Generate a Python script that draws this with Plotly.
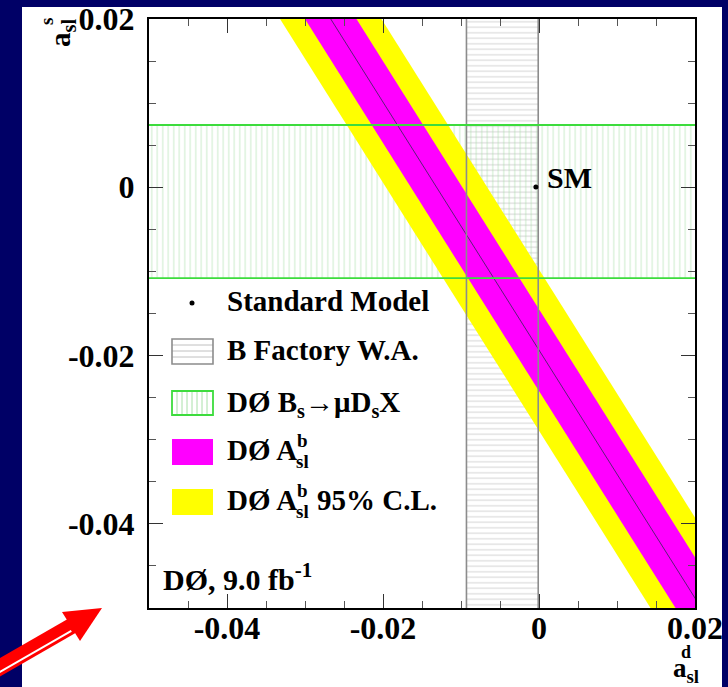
import numpy as np
import plotly.graph_objects as go

# ---------------- data ----------------
asl_d_range = [-0.05, 0.02]
asl_s_range = [-0.05, 0.02]
x_tick_vals = [-0.04, -0.02, 0.0, 0.02]
x_tick_text = ["-0.04", "-0.02", "0", "0.02"]
y_tick_vals = [-0.04, -0.02, 0.0, 0.02]
y_tick_text = ["-0.04", "-0.02", "0", "0.02"]

sm_asl_d = [-0.0004]
sm_asl_s = [0.00002]

bfactory_asl_d = [-0.0093, -0.0001]      # B Factory W.A. band edges (a_sl^d)
bs_asl_s = [-0.0108, 0.0074]             # DØ Bs->muDsX band edges (a_sl^s)

band_asl_s = [0.02, -0.05]               # a_sl^s at the two ends of the A_sl^b band
band_center_asl_d = [-0.0267, 0.0208]    # a_sl^d of the band centre at those ends
band_1sigma_half = 0.0033                # half width (in a_sl^d) of DØ A_sl^b band
band_95cl_half = 0.0065                  # half width (in a_sl^d) of 95% C.L. band

# ---------------- layout helpers ----------------
W, H = 728, 687
L, R, T, B = 149, 695, 19, 608
NAVY = "#000066"
FONT = "Liberation Serif"


def px(x):
    return (x - L) / (R - L)


def py(y):
    return (B - y) / (B - T)


fig = go.Figure()

span_s = [asl_s_range[0] - 0.01, asl_s_range[1] + 0.01]
span_d = [asl_d_range[0] - 0.01, asl_d_range[1] + 0.01]

# B factory hatched band (horizontal lines)
fig.add_trace(go.Scatter(
    x=[bfactory_asl_d[0], bfactory_asl_d[1], bfactory_asl_d[1], bfactory_asl_d[0]],
    y=[span_s[0], span_s[0], span_s[1], span_s[1]],
    fill="toself", mode="none", fillcolor="rgba(0,0,0,0)",
    fillpattern=dict(shape="-", size=5.5, solidity=0.2, fgcolor="#b0b0b0",
                     bgcolor="rgba(0,0,0,0)"),
    showlegend=False, hoverinfo="skip"))

# DØ Bs -> mu Ds X hatched band (vertical lines)
fig.add_trace(go.Scatter(
    x=[span_d[0], span_d[1], span_d[1], span_d[0]],
    y=[bs_asl_s[0], bs_asl_s[0], bs_asl_s[1], bs_asl_s[1]],
    fill="toself", mode="none", fillcolor="rgba(0,0,0,0)",
    fillpattern=dict(shape="|", size=5.5, solidity=0.2, fgcolor="#a0dca0",
                     bgcolor="rgba(0,0,0,0)"),
    showlegend=False, hoverinfo="skip"))


def band(half):
    xs = [band_center_asl_d[0] - half, band_center_asl_d[1] - half,
          band_center_asl_d[1] + half, band_center_asl_d[0] + half]
    ys = [band_asl_s[0], band_asl_s[1], band_asl_s[1], band_asl_s[0]]
    return xs, ys


xs, ys = band(band_95cl_half)
fig.add_trace(go.Scatter(x=xs, y=ys, fill="toself", mode="none",
                         fillcolor="#ffff00", showlegend=False, hoverinfo="skip"))
xs, ys = band(band_1sigma_half)
fig.add_trace(go.Scatter(x=xs, y=ys, fill="toself", mode="none",
                         fillcolor="#ff00ff", showlegend=False, hoverinfo="skip"))
fig.add_trace(go.Scatter(x=band_center_asl_d, y=band_asl_s, mode="lines",
                         line=dict(color="#5b1f78", width=1),
                         showlegend=False, hoverinfo="skip"))

# box edges
for xv in bfactory_asl_d:
    fig.add_trace(go.Scatter(x=[xv, xv], y=span_s, mode="lines",
                             line=dict(color="#8c8c8c", width=1.6),
                             showlegend=False, hoverinfo="skip"))
for yv in bs_asl_s:
    fig.add_trace(go.Scatter(x=span_d, y=[yv, yv], mode="lines",
                             line=dict(color="#3ddc3d", width=1.8),
                             showlegend=False, hoverinfo="skip"))

# SM point
fig.add_trace(go.Scatter(x=sm_asl_d, y=sm_asl_s, mode="markers",
                         marker=dict(color="black", size=5),
                         showlegend=False, hoverinfo="skip"))

shapes = []
# white panel on navy slide
shapes.append(dict(type="rect", xref="paper", yref="paper", layer="below",
                   x0=px(22), x1=px(722), y0=py(H + 5), y1=py(7),
                   fillcolor="white", line=dict(width=0)))

# ---- legend swatches ----
bx0, bx1 = 172, 213
# SM dot
shapes.append(dict(type="circle", xref="paper", yref="paper",
                   x0=px(189.5), x1=px(194.5), y0=py(305.5), y1=py(300.5),
                   fillcolor="black", line=dict(width=0)))
# B factory box
by0, by1 = 339, 364
for yy in np.arange(by0 + 6, by1 - 1, 6):
    shapes.append(dict(type="line", xref="paper", yref="paper",
                       x0=px(bx0), x1=px(bx1), y0=py(yy), y1=py(yy),
                       line=dict(color="#c0c0c0", width=1)))
shapes.append(dict(type="rect", xref="paper", yref="paper",
                   x0=px(bx0), x1=px(bx1), y0=py(by1), y1=py(by0),
                   line=dict(color="#8c8c8c", width=1.6)))
# Bs box
gy0, gy1 = 391, 415
for xx in np.arange(bx0 + 5, bx1 - 1, 5):
    shapes.append(dict(type="line", xref="paper", yref="paper",
                       x0=px(xx), x1=px(xx), y0=py(gy0), y1=py(gy1),
                       line=dict(color="#a8e0a8", width=1)))
shapes.append(dict(type="rect", xref="paper", yref="paper",
                   x0=px(bx0), x1=px(bx1), y0=py(gy1), y1=py(gy0),
                   line=dict(color="#3ddc3d", width=1.8)))
# magenta / yellow boxes
shapes.append(dict(type="rect", xref="paper", yref="paper",
                   x0=px(bx0), x1=px(bx1), y0=py(465), y1=py(439),
                   fillcolor="#ff00ff", line=dict(width=0)))
shapes.append(dict(type="rect", xref="paper", yref="paper",
                   x0=px(bx0), x1=px(bx1), y0=py(515), y1=py(489),
                   fillcolor="#ffff00", line=dict(width=0)))

# ---- red arrow ----
tip = np.array([102.0, 608.0])
c1 = np.array([62.0, 612.0])
c2 = np.array([80.0, 641.0])
base_mid = (c1 + c2) / 2
d = tip - base_mid
d = d / np.linalg.norm(d)
n = np.array([-d[1], d[0]])
if n[1] < 0:
    n = -n
start = base_mid - 100 * d + np.array([0, -2])
end = base_mid + 2 * d


def pth(points):
    s = "M " + " L ".join(f"{px(p[0]):.5f},{py(p[1]):.5f}" for p in points) + " Z"
    return s


shaft = [start - 8 * n, end - 8 * n, end + 8 * n, start + 8 * n]
shapes.append(dict(type="path", xref="paper", yref="paper", path=pth(shaft),
                   fillcolor="#ff0000", line=dict(width=0)))
ws = start + 4 * n
we = base_mid - 2 * d + 4 * n
shapes.append(dict(type="line", xref="paper", yref="paper",
                   x0=px(ws[0]), y0=py(ws[1]), x1=px(we[0]), y1=py(we[1]),
                   line=dict(color="white", width=2)))
shapes.append(dict(type="path", xref="paper", yref="paper",
                   path=pth([tip, c1, c2]), fillcolor="#ff0000", line=dict(width=0)))

# ---- annotations ----
ann = []


def txt(text, x, y, size=29, xanchor="left", angle=0):
    ann.append(dict(text=text, x=px(x), y=py(y), xref="paper", yref="paper",
                    xanchor=xanchor, yanchor="middle", showarrow=False,
                    textangle=angle, borderpad=0,
                    font=dict(family=FONT, size=size, color="black", weight="bold")))


txt("Standard Model", 226, 301)
txt("B Factory W.A.", 226, 350)
txt("DØ B<sub>s</sub>→μD<sub>s</sub>X", 226, 404)
txt("DØ A", 226, 450)
txt("b", 296, 440, size=19)
txt("sl", 295, 461, size=19)
txt("DØ A", 226, 500)
txt("b", 296, 490, size=19)
txt("sl", 295, 511, size=19)
txt("95% C.L.", 316, 500)
txt("DØ, 9.0 fb<sup>-1</sup>", 162, 577, size=30)
txt("SM", 546, 177, size=30)
# axis titles
txt("a<sub>sl</sub>", 700, 670, size=27, xanchor="right")
txt("d", 686, 652, size=18, xanchor="center")
txt("a<sub>sl</sub>", 62, 33, size=29, xanchor="center", angle=-90)
txt("s", 46, 22, size=19, xanchor="center", angle=-90)

axis_common = dict(
    showgrid=False, zeroline=False, showline=True, linecolor="black", linewidth=2,
    mirror="allticks", ticks="inside", ticklen=14, tickwidth=1, tickcolor="#333",
    minor=dict(dtick=0.005, ticks="inside", ticklen=7, tickwidth=1, tickcolor="#555"),
    tickfont=dict(family=FONT, size=32, color="black", weight="bold"),
    fixedrange=True, automargin=False,
)

fig.update_layout(
    width=W, height=H, autosize=False,
    margin=dict(l=L, r=W - R, t=T, b=H - B, pad=0, autoexpand=False),
    paper_bgcolor=NAVY, plot_bgcolor="white",
    xaxis=dict(range=asl_d_range, tickvals=x_tick_vals, ticktext=x_tick_text,
               ticklabelstandoff=-9, **axis_common),
    yaxis=dict(range=asl_s_range, tickvals=y_tick_vals, ticktext=y_tick_text,
               ticklabelstandoff=6, **axis_common),
    shapes=shapes, annotations=ann, showlegend=False,
)

fig.write_html(
    "out.html",
    config=dict(displayModeBar=False, responsive=False),
    post_script="document.body.style.margin='0';document.body.style.overflow='hidden';",
)
